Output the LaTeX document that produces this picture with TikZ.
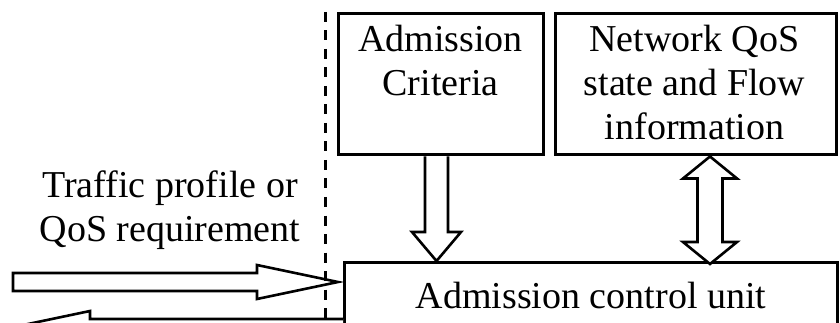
\documentclass[tikz,border=0pt]{standalone}
\usepackage{fontspec}
\setmainfont{Liberation Serif}
\usetikzlibrary{calc}
\begin{document}
\begin{tikzpicture}[x=1pt,y=-1pt,
  box/.style={draw, line width=3pt, inner sep=0pt},
  txt/.style={font=\fontsize{38}{44}\selectfont, align=center, inner sep=0pt},
  blockarrow/.style={draw, line width=2.6pt, fill=white, line join=miter},
  divider/.style={line width=2.8pt, dash pattern=on 10pt off 8.5pt}]
\useasboundingbox (0,0) rectangle (840,323);

% boxes
\node[box, minimum width=205pt, minimum height=141pt] (crit) at (440.5,84.5) {};
\node[box, minimum width=281pt, minimum height=141pt] (net) at (695.5,84.5) {};
\node[box, minimum width=493pt, minimum height=120pt, anchor=north west] (acu) at (343,261) {};

% texts
\node[txt, anchor=north] (critt) at (440.5,24.5) {Admission\\Criteria};
\node[txt, anchor=north] (nett) at (694.5,24.5) {Network QoS\\state and Flow\\information};
\node[txt, anchor=base] (acut) at (591,308.5) {Admission control unit};
\node[txt, anchor=north] (traffic) at (170,170.5) {Traffic profile or\\QoS requirement};

% criteria -> control unit
\path (crit.south) ++(-4,0) coordinate (ds);
\path (acu.north -| ds) coordinate (dt);
\draw[blockarrow] ($(ds)+(-11.5,0)$) -- ($(dt)+(-11.5,-29)$) -- ($(dt)+(-24.5,-29)$) -- (dt)
  -- ($(dt)+(24.5,-29)$) -- ($(dt)+(11.5,-29)$) -- ($(ds)+(11.5,0)$);

% network state <-> control unit
\path (net.south) ++(14.5,0) coordinate (us);
\path (acu.north -| us) ++(0,3) coordinate (ut);
\draw[blockarrow] (us) -- ($(us)+(27,22)$) -- ($(us)+(12.5,22)$) -- ($(ut)+(12.5,-22)$)
  -- ($(ut)+(27,-22)$) -- (ut) -- ($(ut)+(-27,-22)$) -- ($(ut)+(-12.5,-22)$)
  -- ($(us)+(-12.5,22)$) -- ($(us)+(-27,22)$) -- cycle;

% incoming request
\coordinate (rs) at (13,282);
\path (acu.west |- rs) ++(-5,0) coordinate (rt);
\draw[blockarrow] ($(rs)+(0,-9)$) -- ($(rt)+(-81,-9)$) -- ($(rt)+(-81,-17)$) -- (rt)
  -- ($(rt)+(-81,17)$) -- ($(rt)+(-81,9)$) -- ($(rs)+(0,9)$) -- cycle;

% outgoing decision
\coordinate (lt) at (9,328);
\path (acu.west |- lt) coordinate (ls);
\draw[blockarrow] ($(ls)+(0,-9)$) -- ($(lt)+(81,-9)$) -- ($(lt)+(81,-17)$) -- (lt)
  -- ($(lt)+(81,17)$) -- ($(lt)+(81,9)$) -- ($(ls)+(0,9)$);

% domain boundary
\coordinate (dtop) at (325.5,12);
\coordinate (dbot) at (325.5,330);
\draw[divider] (dtop) -- (dbot);
\end{tikzpicture}
\end{document}
